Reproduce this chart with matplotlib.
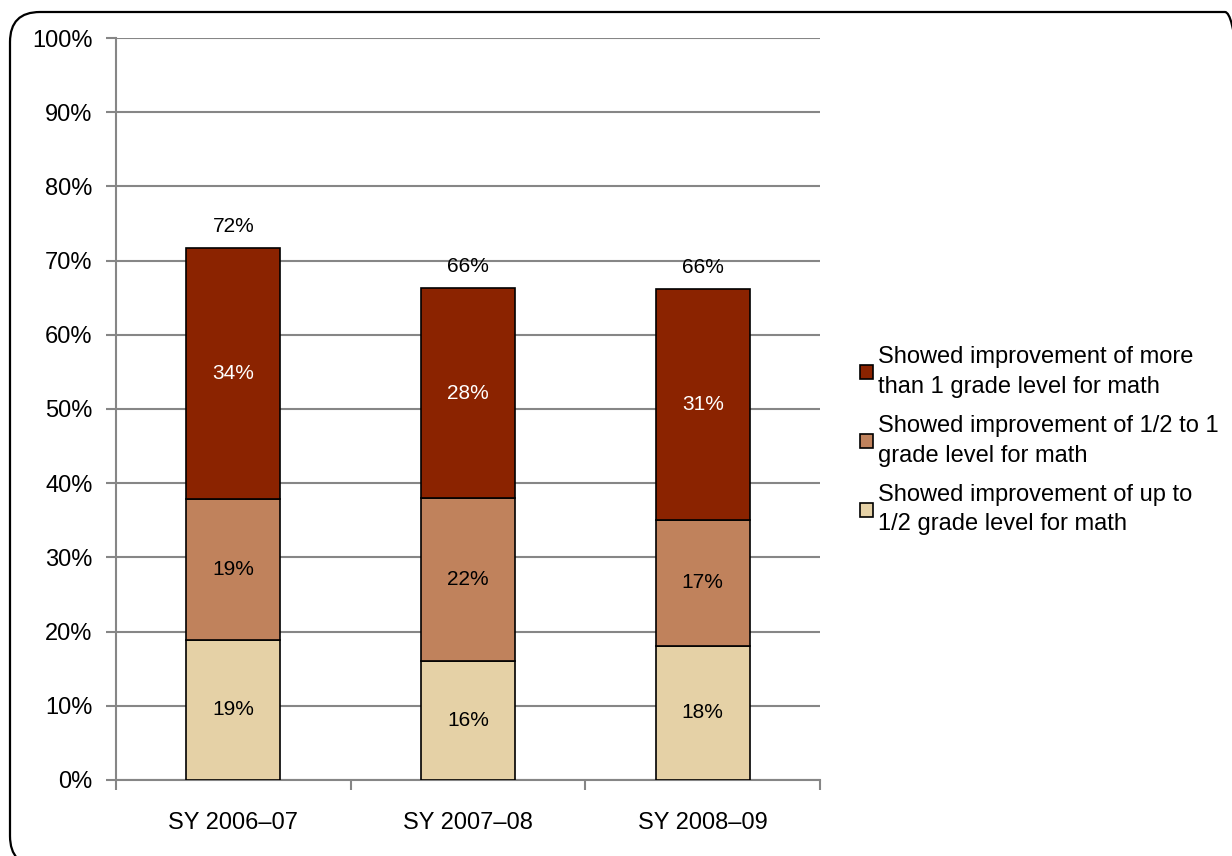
import numpy as np
import matplotlib
matplotlib.use("Agg")
import matplotlib.pyplot as plt
from matplotlib.patches import FancyBboxPatch

plt.rcParams['font.family'] = ['Liberation Sans', 'DejaVu Sans']

# data
years = ['SY 2006\u201307', 'SY 2007\u201308', 'SY 2008\u201309']
up_to_half = [18.9, 16.0, 18.1]
half_to_one = [19.0, 22.0, 17.0]
more_than_one = [33.8, 28.3, 31.1]
series_names = ['Showed improvement of up to\n1/2 grade level for math',
                'Showed improvement of 1/2 to 1\ngrade level for math',
                'Showed improvement of more\nthan 1 grade level for math']
colors = ['#E5D1A6', '#C0825C', '#8B2300']
label_colors = ['black', 'black', 'white']
yticks = [0, 10, 20, 30, 40, 50, 60, 70, 80, 90, 100]

fig = plt.figure(figsize=(12.32, 8.56), dpi=100)
ax = fig.add_axes([0.0942, 0.0888, 0.5714, 0.8668])

x = np.arange(len(years))
bottom = np.zeros(len(years))
handles = []
for vals, name, c, lc in zip([up_to_half, half_to_one, more_than_one], series_names, colors, label_colors):
    vals = np.array(vals)
    b = ax.bar(x, vals, 0.4, bottom=bottom, color=c, edgecolor='black', linewidth=1.2, label=name, zorder=3)
    handles.append(b)
    for xi, v, bt in zip(x, vals, bottom):
        ax.text(xi, bt + v / 2, f'{round(v)}%', ha='center', va='center', fontsize=15, color=lc, zorder=4)
    bottom += vals

for xi, tot in zip(x, bottom):
    ax.text(xi, tot + 1.6, f'{round(tot)}%', ha='center', va='bottom', fontsize=15, color='black')

ax.set_xlim(-0.5, len(years) - 0.5)
ax.set_ylim(0, 100)
ax.set_yticks(yticks)
ax.set_yticklabels([f'{t}%' for t in yticks], fontsize=17)
ax.set_xticks(x)
ax.set_xticklabels(years, fontsize=17)
ax.tick_params(axis='x', length=0, pad=23)
ax.set_xticks(np.arange(len(years) + 1) - 0.5, minor=True)
ax.tick_params(axis='x', which='minor', length=7, color='#868686', width=1.5)
ax.tick_params(axis='y', length=7, color='#868686', width=1.5, pad=10)
ax.grid(axis='y', color='#868686', linewidth=1.5, zorder=0)
for s in ['top', 'right']:
    ax.spines[s].set_visible(False)
for s in ['left', 'bottom']:
    ax.spines[s].set_color('#868686')
    ax.spines[s].set_linewidth(1.5)

leg = fig.legend(handles[::-1], [h.get_label() for h in handles[::-1]],
                 loc='center left', bbox_to_anchor=(0.681, 0.485), frameon=False,
                 fontsize=17, handlelength=0.55, handleheight=0.55, handletextpad=0.2,
                 labelspacing=0.72)
for t in leg.get_texts():
    t.set_linespacing(1.45)

border = FancyBboxPatch((0.10, -0.10), 12.45, 8.54,
                        boxstyle='round,pad=0,rounding_size=0.3',
                        transform=fig.dpi_scale_trans, fill=False, edgecolor='black',
                        linewidth=1.6, clip_on=False)
fig.patches.append(border)

fig.savefig('out.png', dpi=100)
